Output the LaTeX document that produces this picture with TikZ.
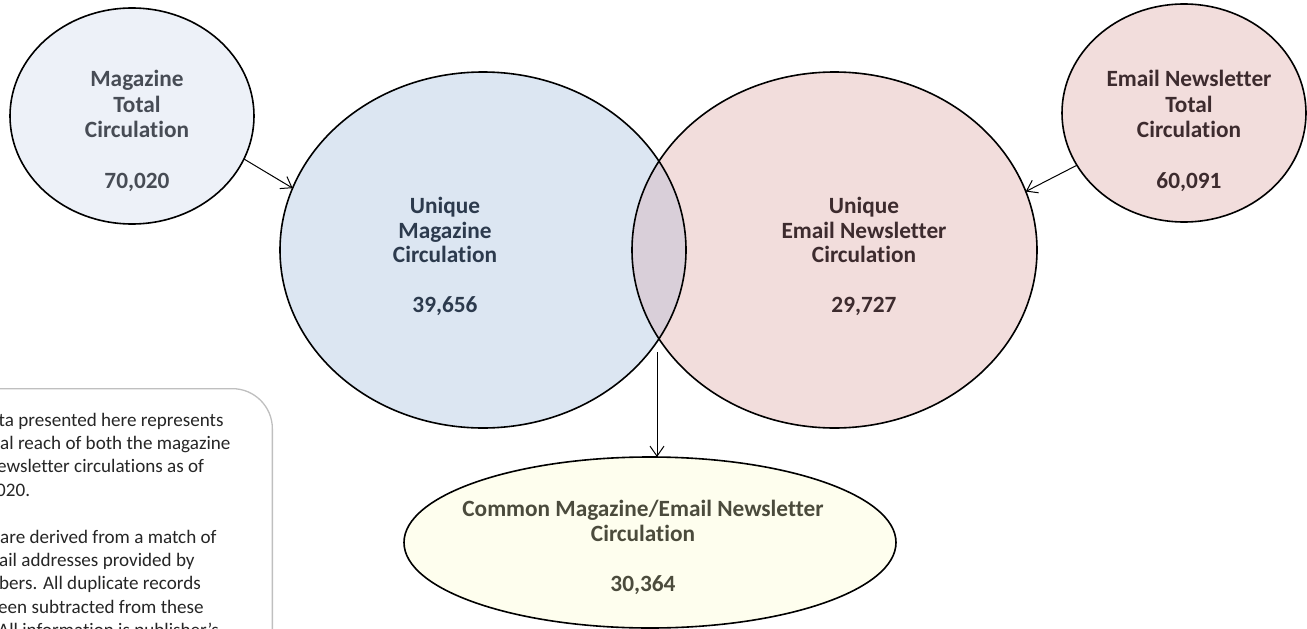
\documentclass[tikz,border=0pt]{standalone}
\usepackage{fontspec}
\setmainfont{Carlito}[Ligatures={NoCommon,NoContextual,NoRare}, RawFeature={-liga;-clig;-dlig;-calt}]
\usetikzlibrary{shapes.geometric,arrows.meta}
\definecolor{smallblue}{HTML}{EDF1F8}
\definecolor{bigblue}{HTML}{DCE6F2}
\definecolor{pinkc}{HTML}{F2DDDC}
\definecolor{lensc}{HTML}{D9CFD9}
\definecolor{commonc}{HTML}{FEFEEE}
\definecolor{txtgray}{HTML}{474C55}
\definecolor{txtblue}{HTML}{2C3A4D}
\definecolor{txtpink}{HTML}{3D2B2E}
\definecolor{txtolive}{HTML}{4B4B3C}
\definecolor{notetext}{HTML}{262626}
\definecolor{noteborder}{HTML}{BFBFBF}
\begin{document}
\begin{tikzpicture}[x=1pt,y=-1pt,
  venn/.style={ellipse, draw=black, line width=1.6pt, inner sep=0pt, outer sep=0pt},
  bigtxt/.style={font=\bfseries\fontsize{23.3}{25}\selectfont, anchor=base, inner sep=0pt},
  conn/.style={-{Straight Barb[length=10pt,width=14pt]}, line width=1pt},
  notetxt/.style={font=\fontsize{19.1}{23.3}\selectfont, anchor=base west, inner sep=0pt, text=notetext}]
\useasboundingbox (0,0) rectangle (1307,629);

% note box
\node[draw=noteborder, line width=1.3pt, rounded corners=40pt, fill=white, minimum width=320pt, minimum height=300pt, inner sep=0pt, anchor=north east] (notebox) at (273,388) {};
\foreach \xx/\yy/\t [count=\i] in {-1.5/426/ta presented here represents,
  0/449.4/al reach of both the magazine,
  -3/472.8/ewsletter circulations as of,
  -4/496.2/020.,
  0/543/are derived from a match of,
  -1/566.4/ail addresses provided by,
  -1/589.8/bers. All duplicate records,
  -2/613.2/een subtracted from these,
  -2/636.6/All information is publisher's}
  \node[notetxt, name=note\i] at (\xx,\yy) {\t};

% big Venn fills
\fill[bigblue] (483,250) ellipse [x radius=203pt, y radius=178pt];
\fill[pinkc] (834.5,250) ellipse [x radius=202.5pt, y radius=178pt];
\begin{scope}
  \clip (483,250) ellipse [x radius=203pt, y radius=178pt];
  \fill[lensc] (834.5,250) ellipse [x radius=202.5pt, y radius=178pt];
\end{scope}
\node[venn, minimum width=406pt, minimum height=356pt] (umag) at (483,250) {};
\node[venn, minimum width=405pt, minimum height=356pt] (uemail) at (834.5,250) {};

% small circles
\node[venn, fill=smallblue, minimum width=244pt, minimum height=216pt] (magtot) at (132,116) {};
\node[venn, fill=pinkc, minimum width=244pt, minimum height=218pt] (emtot) at (1184,113) {};

% common ellipse
\node[venn, fill=commonc, minimum width=492pt, minimum height=171pt] (common) at (650,542.5) {};

% texts
\foreach \yy/\t [count=\i] in {86.7/Magazine, 112/Total, 137.3/Circulation, 188/{70,020}}
  \node[bigtxt, text=txtgray, name=mt\i] at (137,\yy) {\t};
\foreach \yy/\t [count=\i] in {86.7/Email Newsletter, 112/Total, 137.3/Circulation, 188/{60,091}}
  \node[bigtxt, text=txtpink, name=et\i] at (1189,\yy) {\t};
\foreach \yy/\t [count=\i] in {213.3/Unique, 238/Magazine, 262.3/Circulation, 312.5/{39,656}}
  \node[bigtxt, text=txtblue, name=um\i] at (445,\yy) {\t};
\foreach \yy/\t [count=\i] in {213.3/Unique, 238/Email Newsletter, 262.3/Circulation, 312.5/{29,727}}
  \node[bigtxt, text=txtpink, name=ue\i] at (864,\yy) {\t};
\node[bigtxt, text=txtolive] (cm1) at (643,516) {Common Magazine/Email Newsletter};
\node[bigtxt, text=txtolive] (cm2) at (643,541) {Circulation};
\node[bigtxt, text=txtolive] (cm3) at (643,591) {30,364};

% connectors
\draw[conn] (magtot.-21) -- (umag.162.6);
\draw[conn] (emtot.206.6) -- (uemail.17.2);
\coordinate (lensbot) at (657,352);
\draw[conn] (lensbot) -- (lensbot |- common.north);
\end{tikzpicture}
\end{document}
